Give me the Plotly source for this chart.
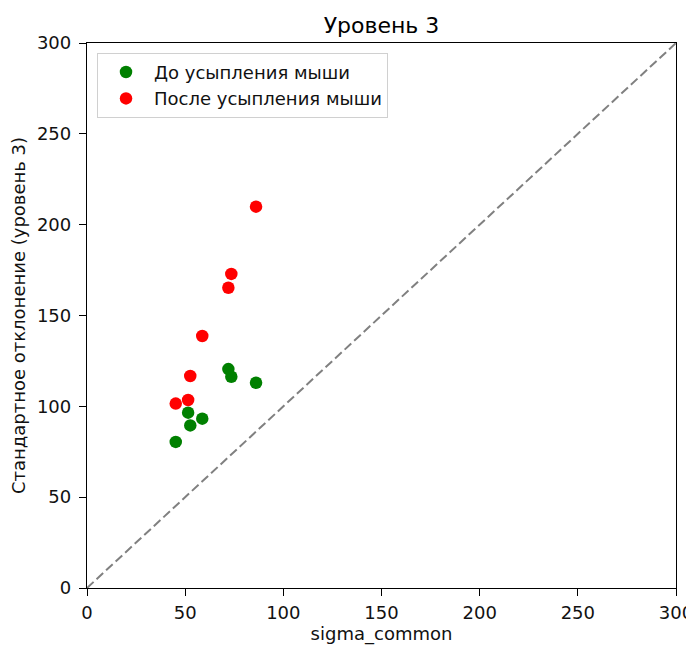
import plotly.graph_objects as go

sigma_common = [45.2, 51.5, 52.6, 58.7, 72.0, 73.5, 86.1]
before_sigma = [80.4, 96.5, 89.5, 93.2, 120.5, 116.3, 113.0]
after_sigma = [101.5, 103.5, 116.7, 138.7, 165.3, 172.9, 209.9]
diag = [0, 300]
tick_vals = [0, 50, 100, 150, 200, 250, 300]

font = "DejaVu Sans"
W, H = 686, 638
fig = go.Figure()
fig.add_trace(go.Scatter(x=diag, y=diag, mode="lines",
                         line=dict(color="gray", dash="9px,4px", width=2),
                         showlegend=False, hoverinfo="skip"))
fig.add_trace(go.Scatter(x=sigma_common, y=before_sigma, mode="markers",
                         name="До усыпления мыши",
                         marker=dict(color="green", size=12.5)))
fig.add_trace(go.Scatter(x=sigma_common, y=after_sigma, mode="markers",
                         name="После усыпления мыши",
                         marker=dict(color="red", size=12.5)))

axis_common = dict(range=[0, 300], tickvals=tick_vals, showgrid=False, zeroline=False,
                   showline=True, linecolor="black", linewidth=1.3, mirror=True,
                   ticks="outside", ticklen=7, tickcolor="black", tickwidth=1.3,
                   automargin=False,
                   tickfont=dict(family=font, size=18, color="#111111"))
fig.update_layout(
    width=W, height=H,
    margin=dict(l=79, r=18, t=35, b=58, autoexpand=False),
    paper_bgcolor="white", plot_bgcolor="white",
    title=dict(text="Уровень 3", x=373.5 / W, xanchor="center", xref="container",
               yref="container", y=1 - 17 / H, yanchor="middle",
               font=dict(family=font, size=22, color="black")),
    xaxis=dict(axis_common, ticklabelstandoff=1,
               title=dict(text="sigma_common", font=dict(family=font, size=18, color="#111111"), standoff=4)),
    yaxis=dict(axis_common, ticklabelstandoff=4,
               title=dict(text="Стандартное отклонение (уровень 3)", font=dict(family=font, size=18, color="#111111"), standoff=8)),
    legend=dict(x=0.017, y=0.982, xanchor="left", yanchor="top",
                bordercolor="#d0d0d0", borderwidth=1, bgcolor="rgba(255,255,255,0.8)",
                font=dict(family=font, size=18, color="#111111"), itemwidth=46),
)
fig.write_html("out.html")
